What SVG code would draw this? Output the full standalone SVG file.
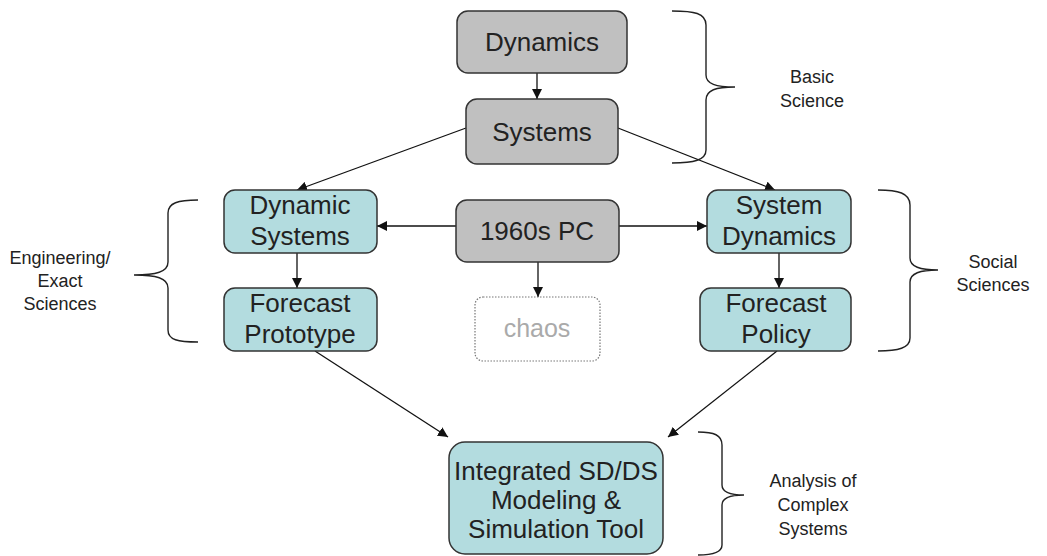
<svg xmlns="http://www.w3.org/2000/svg" width="1047" height="556" viewBox="0 0 1047 556">
<style>
  .grey { fill: #c0c0c0; stroke: #333; stroke-width: 1.5; }
  .blue { fill: #b3dcdf; stroke: #333; stroke-width: 1.5; }
  .chaos { fill: #fff; stroke: #777; stroke-width: 1.2; stroke-dasharray: 1.5 1.5; }
  .nt { font-family: "Liberation Sans", Arial, sans-serif; font-size: 26px; fill: #222; text-anchor: middle; }
  .ct { font-family: "Liberation Sans", Arial, sans-serif; font-size: 25px; fill: #aaa; text-anchor: middle; }
  .lb { font-family: "Liberation Sans", Arial, sans-serif; font-size: 18px; fill: #222; text-anchor: middle; }
  .edge { fill: none; stroke: #111; stroke-width: 1.3; marker-end: url(#arr); }
  .brace { fill: none; stroke: #222; stroke-width: 1.4; }
</style>
<defs>
  <marker id="arr" markerUnits="userSpaceOnUse" markerWidth="10" markerHeight="10" refX="10" refY="5" orient="auto">
    <path d="M0,0 L10,5 L0,10 z" fill="#111"/>
  </marker>
</defs>
<rect width="1047" height="556" fill="#fff"/>

<g id="connectors">
  <line class="edge" x1="537" y1="73" x2="537" y2="99"/>
  <line class="edge" x1="466" y1="128" x2="297" y2="190"/>
  <line class="edge" x1="618" y1="128" x2="775" y2="190"/>
  <line class="edge" x1="456" y1="226" x2="377" y2="226"/>
  <line class="edge" x1="619" y1="226" x2="707" y2="226"/>
  <line class="edge" x1="538" y1="262" x2="538" y2="297"/>
  <line class="edge" x1="297" y1="253" x2="297" y2="288"/>
  <line class="edge" x1="779" y1="253" x2="779" y2="288"/>
  <line class="edge" x1="315" y1="351" x2="448" y2="437"/>
  <line class="edge" x1="777" y1="351" x2="668" y2="437"/>
</g>

<g id="braces">
  <path class="brace" d="M672,11 C694,11 706,13 706,25 L706,75 C706,84 716,87 735,87 C716,87 706,90 706,100 L706,150 C706,160 694,163 672,163"/>
  <path class="brace" d="M198,200 C178,200 168,203 168,213 L168,262 C168,272 156,275 134,275 C156,275 168,278 168,288 L168,330 C168,340 178,342 198,342"/>
  <path class="brace" d="M878,190 C898,190 910,193 910,205 L910,258 C910,267 920,270 938,270 C920,270 910,273 910,282 L910,338 C910,348 898,351 878,351"/>
  <path class="brace" d="M698,432 C714,432 722,435 722,445 L722,485 C722,492 730,495 744,495 C730,495 722,498 722,505 L722,545 C722,552 714,555 698,555"/>
</g>

<g id="n-dynamics">
  <rect class="grey" x="457" y="11" width="170" height="62" rx="11"/>
  <text class="nt" x="542" y="51">Dynamics</text>
</g>
<g id="n-systems">
  <rect class="grey" x="466" y="99" width="152" height="65" rx="11"/>
  <text class="nt" x="542" y="141">Systems</text>
</g>
<g id="n-pc">
  <rect class="grey" x="456" y="200" width="163" height="62" rx="11"/>
  <text class="nt" x="537" y="240">1960s PC</text>
</g>
<g id="n-dynsys">
  <rect class="blue" x="224" y="190" width="153" height="63" rx="11"/>
  <text class="nt" x="300" y="214">Dynamic</text>
  <text class="nt" x="300" y="245">Systems</text>
</g>
<g id="n-sysdyn">
  <rect class="blue" x="707" y="190" width="144" height="63" rx="11"/>
  <text class="nt" x="779" y="214">System</text>
  <text class="nt" x="779" y="245">Dynamics</text>
</g>
<g id="n-proto">
  <rect class="blue" x="224" y="288" width="153" height="63" rx="11"/>
  <text class="nt" x="300" y="312">Forecast</text>
  <text class="nt" x="300" y="343">Prototype</text>
</g>
<g id="n-policy">
  <rect class="blue" x="700" y="288" width="151" height="63" rx="11"/>
  <text class="nt" x="776" y="312">Forecast</text>
  <text class="nt" x="776" y="343">Policy</text>
</g>
<g id="n-chaos">
  <rect class="chaos" x="475" y="297" width="125" height="64" rx="8"/>
  <text class="ct" x="537" y="337">chaos</text>
</g>
<g id="n-integrated">
  <rect class="blue" x="449" y="442" width="214" height="112" rx="16"/>
  <text class="nt" x="556" y="480">Integrated SD/DS</text>
  <text class="nt" x="556" y="509">Modeling &amp;</text>
  <text class="nt" x="556" y="538">Simulation Tool</text>
</g>

<g id="labels">
  <text class="lb" x="812" y="83">Basic</text>
  <text class="lb" x="812" y="107">Science</text>
  <text class="lb" x="60" y="264">Engineering/</text>
  <text class="lb" x="60" y="287">Exact</text>
  <text class="lb" x="60" y="310">Sciences</text>
  <text class="lb" x="993" y="268">Social</text>
  <text class="lb" x="993" y="291">Sciences</text>
  <text class="lb" x="813" y="487">Analysis of</text>
  <text class="lb" x="813" y="511">Complex</text>
  <text class="lb" x="813" y="535">Systems</text>
</g>
</svg>
